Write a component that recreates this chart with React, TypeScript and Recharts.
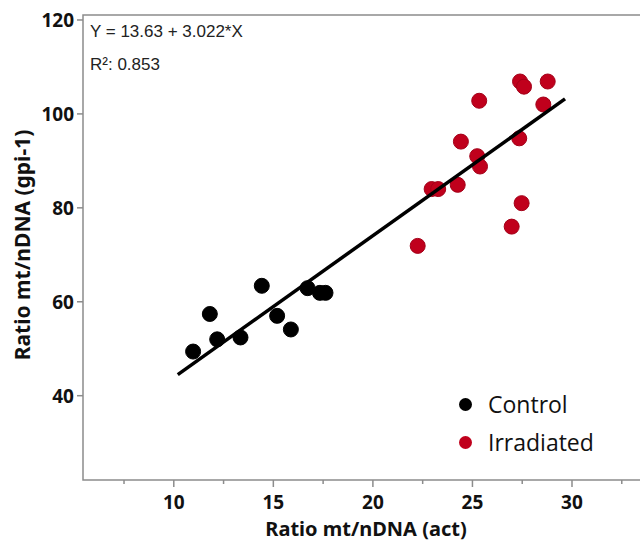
import { ScatterChart, Scatter, XAxis, YAxis, ReferenceArea } from "recharts";

// values
const controlX = [10.97, 11.81, 12.18, 13.35, 14.42, 15.19, 15.88, 16.72, 17.34, 17.62];
const controlY = [49.4, 57.4, 52.0, 52.4, 63.4, 57.0, 54.1, 62.9, 61.9, 61.9];
const irradiatedX = [22.25, 22.95, 23.28, 24.26, 24.42, 25.24, 25.38, 25.34, 26.97, 27.35, 27.47, 27.39, 27.59, 28.56, 28.78];
const irradiatedY = [71.9, 84.0, 84.0, 84.9, 94.1, 91.0, 88.8, 102.8, 76.0, 94.8, 81.0, 106.9, 105.8, 102.0, 106.9];
const fitX = [10.2, 29.65];
const fitY = [44.5, 103.2];

const majorXTicks = [10, 15, 20, 25, 30];
const minorXTicks = [7.5, 12.5, 17.5, 22.5, 27.5, 32.5];
const yTicks = [40, 60, 80, 100, 120];
const xDomain = [5.44, 34.42];
const yDomain = [22.05, 121.06];

const seriesNames = ["Control", "Irradiated"];
const equationText = "Y = 13.63 + 3.022*X";
const r2Text = "R²: 0.853";

const RED = "#c0001c";
const BORDER = "#8c8c8c";
const TICK_FONT = "'Noto Sans', sans-serif";

const toPoints = (xs: number[], ys: number[]) => xs.map((x, i) => ({ x, y: ys[i] }));

const Dot = (color: string, edge: string) => (p: any) => (
    <circle cx={p.cx} cy={p.cy} r={7.5} fill={color} stroke={edge} strokeWidth={1} />
);

const XTick = ({ x, y, payload }: any) => {
    const major = majorXTicks.includes(payload.value);
    return (
        <g>
            <line x1={x} x2={x} y1={y} y2={y + (major ? 7 : 4)} stroke={BORDER} strokeWidth={1.5} />
            {major && (
                <text x={x} y={y + 29} textAnchor="middle" fontFamily={TICK_FONT} fontWeight={700} fontSize={19} fill="#111">
                    {payload.value}
                </text>
            )}
        </g>
    );
};

const YTick = ({ x, y, payload }: any) => (
    <g>
        <line x1={x - 6} x2={x} y1={y} y2={y} stroke={BORDER} strokeWidth={1.5} />
        <text x={x - 9} y={y} dy="0.36em" textAnchor="end" fontFamily={TICK_FONT} fontWeight={700} fontSize={19} fill="#111">
            {payload.value}
        </text>
    </g>
);

export default function App() {
    const colors = ["#000", RED];
    return (
        <div style={{ position: "absolute", left: 0, top: 0, width: 640, height: 542, overflow: "hidden", background: "#fff" }}>
            <ScatterChart width={680} height={542} margin={{ top: 15, right: 20, bottom: 22, left: 0 }}>
                <XAxis
                    type="number"
                    dataKey="x"
                    domain={xDomain}
                    ticks={[...minorXTicks, ...majorXTicks].sort((a, b) => a - b)}
                    allowDataOverflow
                    axisLine={false}
                    tickLine={false}
                    tickSize={0}
                    tickMargin={0}
                    height={40}
                    tick={<XTick />}
                    interval={0}
                    label={{
                        content: () => (
                            <text x={366} y={536} textAnchor="middle" fontFamily={TICK_FONT} fontWeight={700} fontSize={20} fill="#111">
                                Ratio mt/nDNA (act)
                            </text>
                        ),
                    }}
                />
                <YAxis
                    type="number"
                    dataKey="y"
                    domain={yDomain}
                    ticks={yTicks}
                    allowDataOverflow
                    axisLine={false}
                    tickLine={false}
                    tickSize={0}
                    tickMargin={0}
                    width={83}
                    tick={<YTick />}
                    interval={0}
                    label={{
                        content: () => (
                            <text
                                x={23}
                                y={245}
                                transform="rotate(-90 23 245)"
                                dy="0.35em"
                                textAnchor="middle"
                                fontFamily={TICK_FONT}
                                fontWeight={700}
                                fontSize={21}
                                fill="#111"
                            >
                                Ratio mt/nDNA (gpi-1)
                            </text>
                        ),
                    }}
                />
                <ReferenceArea
                    x1={xDomain[0]}
                    x2={xDomain[1]}
                    y1={yDomain[0]}
                    y2={yDomain[1]}
                    fill="none"
                    stroke={BORDER}
                    strokeWidth={1.5}
                    ifOverflow="visible"
                />
                <Scatter name="Control" data={toPoints(controlX, controlY)} shape={Dot("#000", "#000")} isAnimationActive={false} />
                <Scatter name="Irradiated" data={toPoints(irradiatedX, irradiatedY)} shape={Dot(RED, "#a30018")} isAnimationActive={false} />
                <Scatter
                    name="Fit"
                    data={toPoints(fitX, fitY)}
                    shape={() => <g />}
                    line={{ stroke: "#000", strokeWidth: 3.5 }}
                    isAnimationActive={false}
                />
            </ScatterChart>
            <div
                style={{
                    position: "absolute",
                    left: 90,
                    top: 15,
                    fontFamily: "'Liberation Sans', Arial, sans-serif",
                    fontSize: 17,
                    color: "#222",
                    lineHeight: "33px",
                }}
            >
                <div>{equationText}</div>
                <div>{r2Text}</div>
            </div>
            <div
                style={{
                    position: "absolute",
                    left: 459,
                    top: 385,
                    fontFamily: "'Open Sans', sans-serif",
                    fontSize: 23,
                    color: "#111",
                    lineHeight: "38px",
                }}
            >
                {seriesNames.map((name, i) => (
                    <div key={name} style={{ display: "flex", alignItems: "center" }}>
                        <span
                            style={{
                                width: 13,
                                height: 13,
                                borderRadius: "50%",
                                background: colors[i],
                                display: "inline-block",
                                marginRight: 16,
                            }}
                        />
                        {name}
                    </div>
                ))}
            </div>
        </div>
    );
}
